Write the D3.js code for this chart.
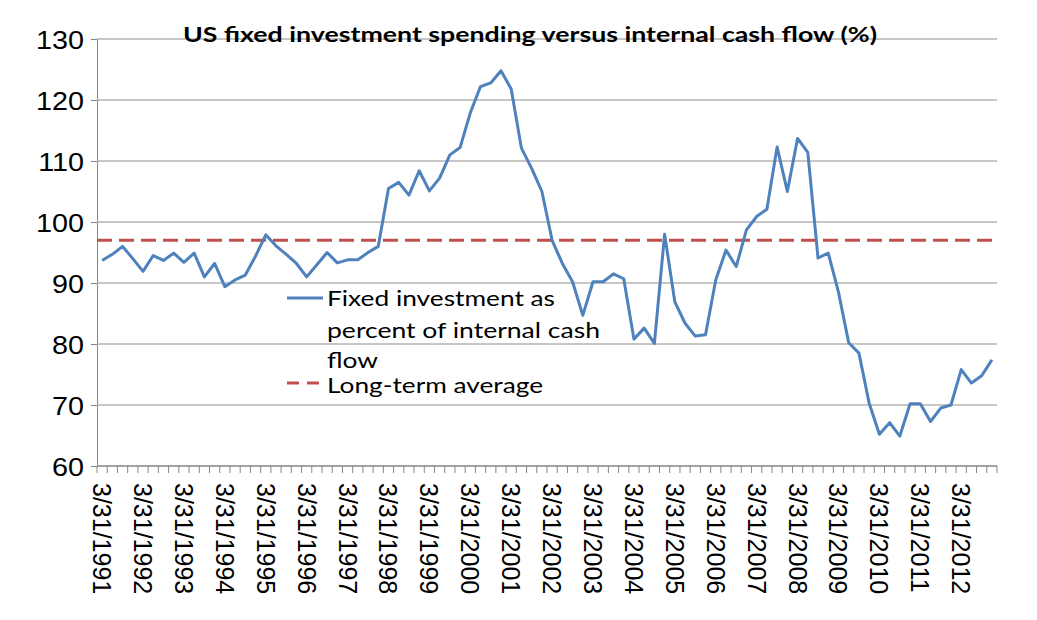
<!DOCTYPE html>
<html>
<head>
<meta charset="utf-8">
<script src="https://cdn.jsdelivr.net/npm/d3@7"></script>
<style>
  body { margin: 0; background: #fff; }
  svg { display: block; }
</style>
</head>
<body>
<div id="chart"></div>
<script>
// quarter-end dates, 1991 Q1 .. 2012 Q4
const quarters = [
    "3/31/1991", "6/30/1991", "9/30/1991", "12/31/1991",
    "3/31/1992", "6/30/1992", "9/30/1992", "12/31/1992",
    "3/31/1993", "6/30/1993", "9/30/1993", "12/31/1993",
    "3/31/1994", "6/30/1994", "9/30/1994", "12/31/1994",
    "3/31/1995", "6/30/1995", "9/30/1995", "12/31/1995",
    "3/31/1996", "6/30/1996", "9/30/1996", "12/31/1996",
    "3/31/1997", "6/30/1997", "9/30/1997", "12/31/1997",
    "3/31/1998", "6/30/1998", "9/30/1998", "12/31/1998",
    "3/31/1999", "6/30/1999", "9/30/1999", "12/31/1999",
    "3/31/2000", "6/30/2000", "9/30/2000", "12/31/2000",
    "3/31/2001", "6/30/2001", "9/30/2001", "12/31/2001",
    "3/31/2002", "6/30/2002", "9/30/2002", "12/31/2002",
    "3/31/2003", "6/30/2003", "9/30/2003", "12/31/2003",
    "3/31/2004", "6/30/2004", "9/30/2004", "12/31/2004",
    "3/31/2005", "6/30/2005", "9/30/2005", "12/31/2005",
    "3/31/2006", "6/30/2006", "9/30/2006", "12/31/2006",
    "3/31/2007", "6/30/2007", "9/30/2007", "12/31/2007",
    "3/31/2008", "6/30/2008", "9/30/2008", "12/31/2008",
    "3/31/2009", "6/30/2009", "9/30/2009", "12/31/2009",
    "3/31/2010", "6/30/2010", "9/30/2010", "12/31/2010",
    "3/31/2011", "6/30/2011", "9/30/2011", "12/31/2011",
    "3/31/2012", "6/30/2012", "9/30/2012", "12/31/2012"
];

// fixed investment as % of internal cash flow
const investment = [
    93.7, 94.7, 96.0, 94.0,
    91.9, 94.5, 93.7, 94.9,
    93.4, 94.9, 91.0, 93.2,
    89.4, 90.5, 91.3, 94.4,
    97.9, 96.1, 94.7, 93.2,
    91.0, 93.0, 95.0, 93.3,
    93.8, 93.8, 95.0, 96.0,
    105.5, 106.5, 104.4, 108.4,
    105.1, 107.2, 111.0, 112.2,
    117.9, 122.2, 122.8, 124.8,
    121.8, 112.1, 108.8, 105.0,
    97.0, 93.2, 90.2, 84.7,
    90.2, 90.2, 91.5, 90.7,
    80.8, 82.6, 80.1, 98.0,
    86.9, 83.4, 81.3, 81.5,
    90.5, 95.4, 92.7, 98.7,
    100.9, 102.1, 112.3, 105.0,
    113.7, 111.4, 94.1, 94.9,
    88.5, 80.2, 78.5, 70.3,
    65.2, 67.1, 64.9, 70.2,
    70.2, 67.3, 69.5, 70.0,
    75.8, 73.6, 74.8, 77.4
];

const longTermAverage = 97;

const yTicks = [60, 70, 80, 90, 100, 110, 120, 130];
const labelEvery = 4;

const legendLines = ["Fixed investment as", "percent of internal cash", "flow"];
const legendAverage = "Long-term average";
const title = "US fixed investment spending versus internal cash flow (%)";

const width = 1037, height = 620;
const blue = "#4F81BD", red = "#C0504D";

const svg = d3.select("#chart").append("svg")
    .attr("width", width).attr("height", height);

const x = d3.scaleBand().domain(quarters).range([97, 997]);
const y = d3.scaleLinear().domain([60, 130]).range([466, 39]);
const cx = d => x(d) + x.bandwidth() / 2;

// stretch text horizontally a bit, the source image is wider than tall
function stretch(sel, k) {
    sel.each(function () {
        const w = this.getComputedTextLength();
        d3.select(this).attr("textLength", w * k).attr("lengthAdjust", "spacingAndGlyphs");
    });
}

// gridlines + y axis
const yAxis = svg.append("g")
    .attr("transform", "translate(97,0)")
    .call(d3.axisLeft(y).tickValues(yTicks).tickSize(6).tickPadding(7).tickFormat(d3.format("d")));
yAxis.select(".domain").attr("stroke", "#868686");
yAxis.selectAll(".tick line").attr("stroke", "#868686");
yAxis.selectAll(".tick text")
    .attr("font-family", "'Liberation Sans', Arial, sans-serif")
    .attr("font-size", 25)
    .attr("fill", "#000")
    .attr("dy", "0.36em")
    .call(stretch, 1.15);

svg.append("g").selectAll("line")
    .data(yTicks.filter(v => v > 60))
    .join("line")
    .attr("x1", 97).attr("x2", 997)
    .attr("y1", d => y(d)).attr("y2", d => y(d))
    .attr("stroke", "#B3B3B3").attr("stroke-width", 1.5);

// x axis: line, tick marks at category boundaries, rotated labels every 4th quarter
const xAxis = svg.append("g").attr("class", "x-axis");
xAxis.append("line")
    .attr("x1", 97).attr("x2", 997)
    .attr("y1", y(60)).attr("y2", y(60))
    .attr("stroke", "#868686").attr("stroke-width", 1.5);
xAxis.selectAll(".qtick")
    .data(quarters.map(q => x(q)).concat([x.range()[1]]))
    .join("line")
    .attr("class", "qtick")
    .attr("x1", d => d).attr("x2", d => d)
    .attr("y1", y(60)).attr("y2", y(60) + 7)
    .attr("stroke", "#868686");

xAxis.selectAll(".xlabel")
    .data(quarters.filter((q, i) => i % labelEvery === 0))
    .join("text")
    .attr("class", "xlabel")
    .attr("transform", d => `translate(${cx(d)},483) rotate(90)`)
    .attr("dy", "0.36em")
    .attr("font-family", "'Liberation Sans', Arial, sans-serif")
    .attr("font-size", 25)
    .attr("fill", "#000")
    .text(d => d);

// long-term average
svg.append("line")
    .attr("x1", 97).attr("x2", 997)
    .attr("y1", y(longTermAverage)).attr("y2", y(longTermAverage))
    .attr("stroke", red).attr("stroke-width", 3)
    .attr("stroke-dasharray", "15,7");

// series line
const line = d3.line()
    .x((d, i) => cx(quarters[i]))
    .y(d => y(d));

svg.append("path")
    .datum(investment)
    .attr("d", line)
    .attr("fill", "none")
    .attr("stroke", blue)
    .attr("stroke-width", 3)
    .attr("stroke-linejoin", "round");

// title
svg.append("text")
    .attr("x", 530).attr("y", 42)
    .attr("text-anchor", "middle")
    .attr("font-family", "Lato, 'Open Sans', sans-serif")
    .attr("font-weight", "bold")
    .attr("font-size", 21)
    .attr("fill", "#000")
    .attr("textLength", 694).attr("lengthAdjust", "spacingAndGlyphs")
    .text(title);

// legend
const legend = svg.append("g").attr("class", "legend");
legend.append("line")
    .attr("x1", 287).attr("x2", 323).attr("y1", 298).attr("y2", 298)
    .attr("stroke", blue).attr("stroke-width", 3);
legend.append("line")
    .attr("x1", 287).attr("x2", 323).attr("y1", 383).attr("y2", 383)
    .attr("stroke", red).attr("stroke-width", 3)
    .attr("stroke-dasharray", "12,8");

const legendText = [
    { t: legendLines[0], y: 305.5, w: 228 },
    { t: legendLines[1], y: 338, w: 273 },
    { t: legendLines[2], y: 367.5, w: 51 },
    { t: legendAverage, y: 392.5, w: 216 }
];
legend.selectAll(".ltext")
    .data(legendText)
    .join("text")
    .attr("class", "ltext")
    .attr("x", 327).attr("y", d => d.y)
    .attr("font-family", "Lato, 'Open Sans', sans-serif")
    .attr("font-size", 21.5)
    .attr("fill", "#000")
    .attr("textLength", d => d.w).attr("lengthAdjust", "spacingAndGlyphs")
    .text(d => d.t);
</script>
</body>
</html>
